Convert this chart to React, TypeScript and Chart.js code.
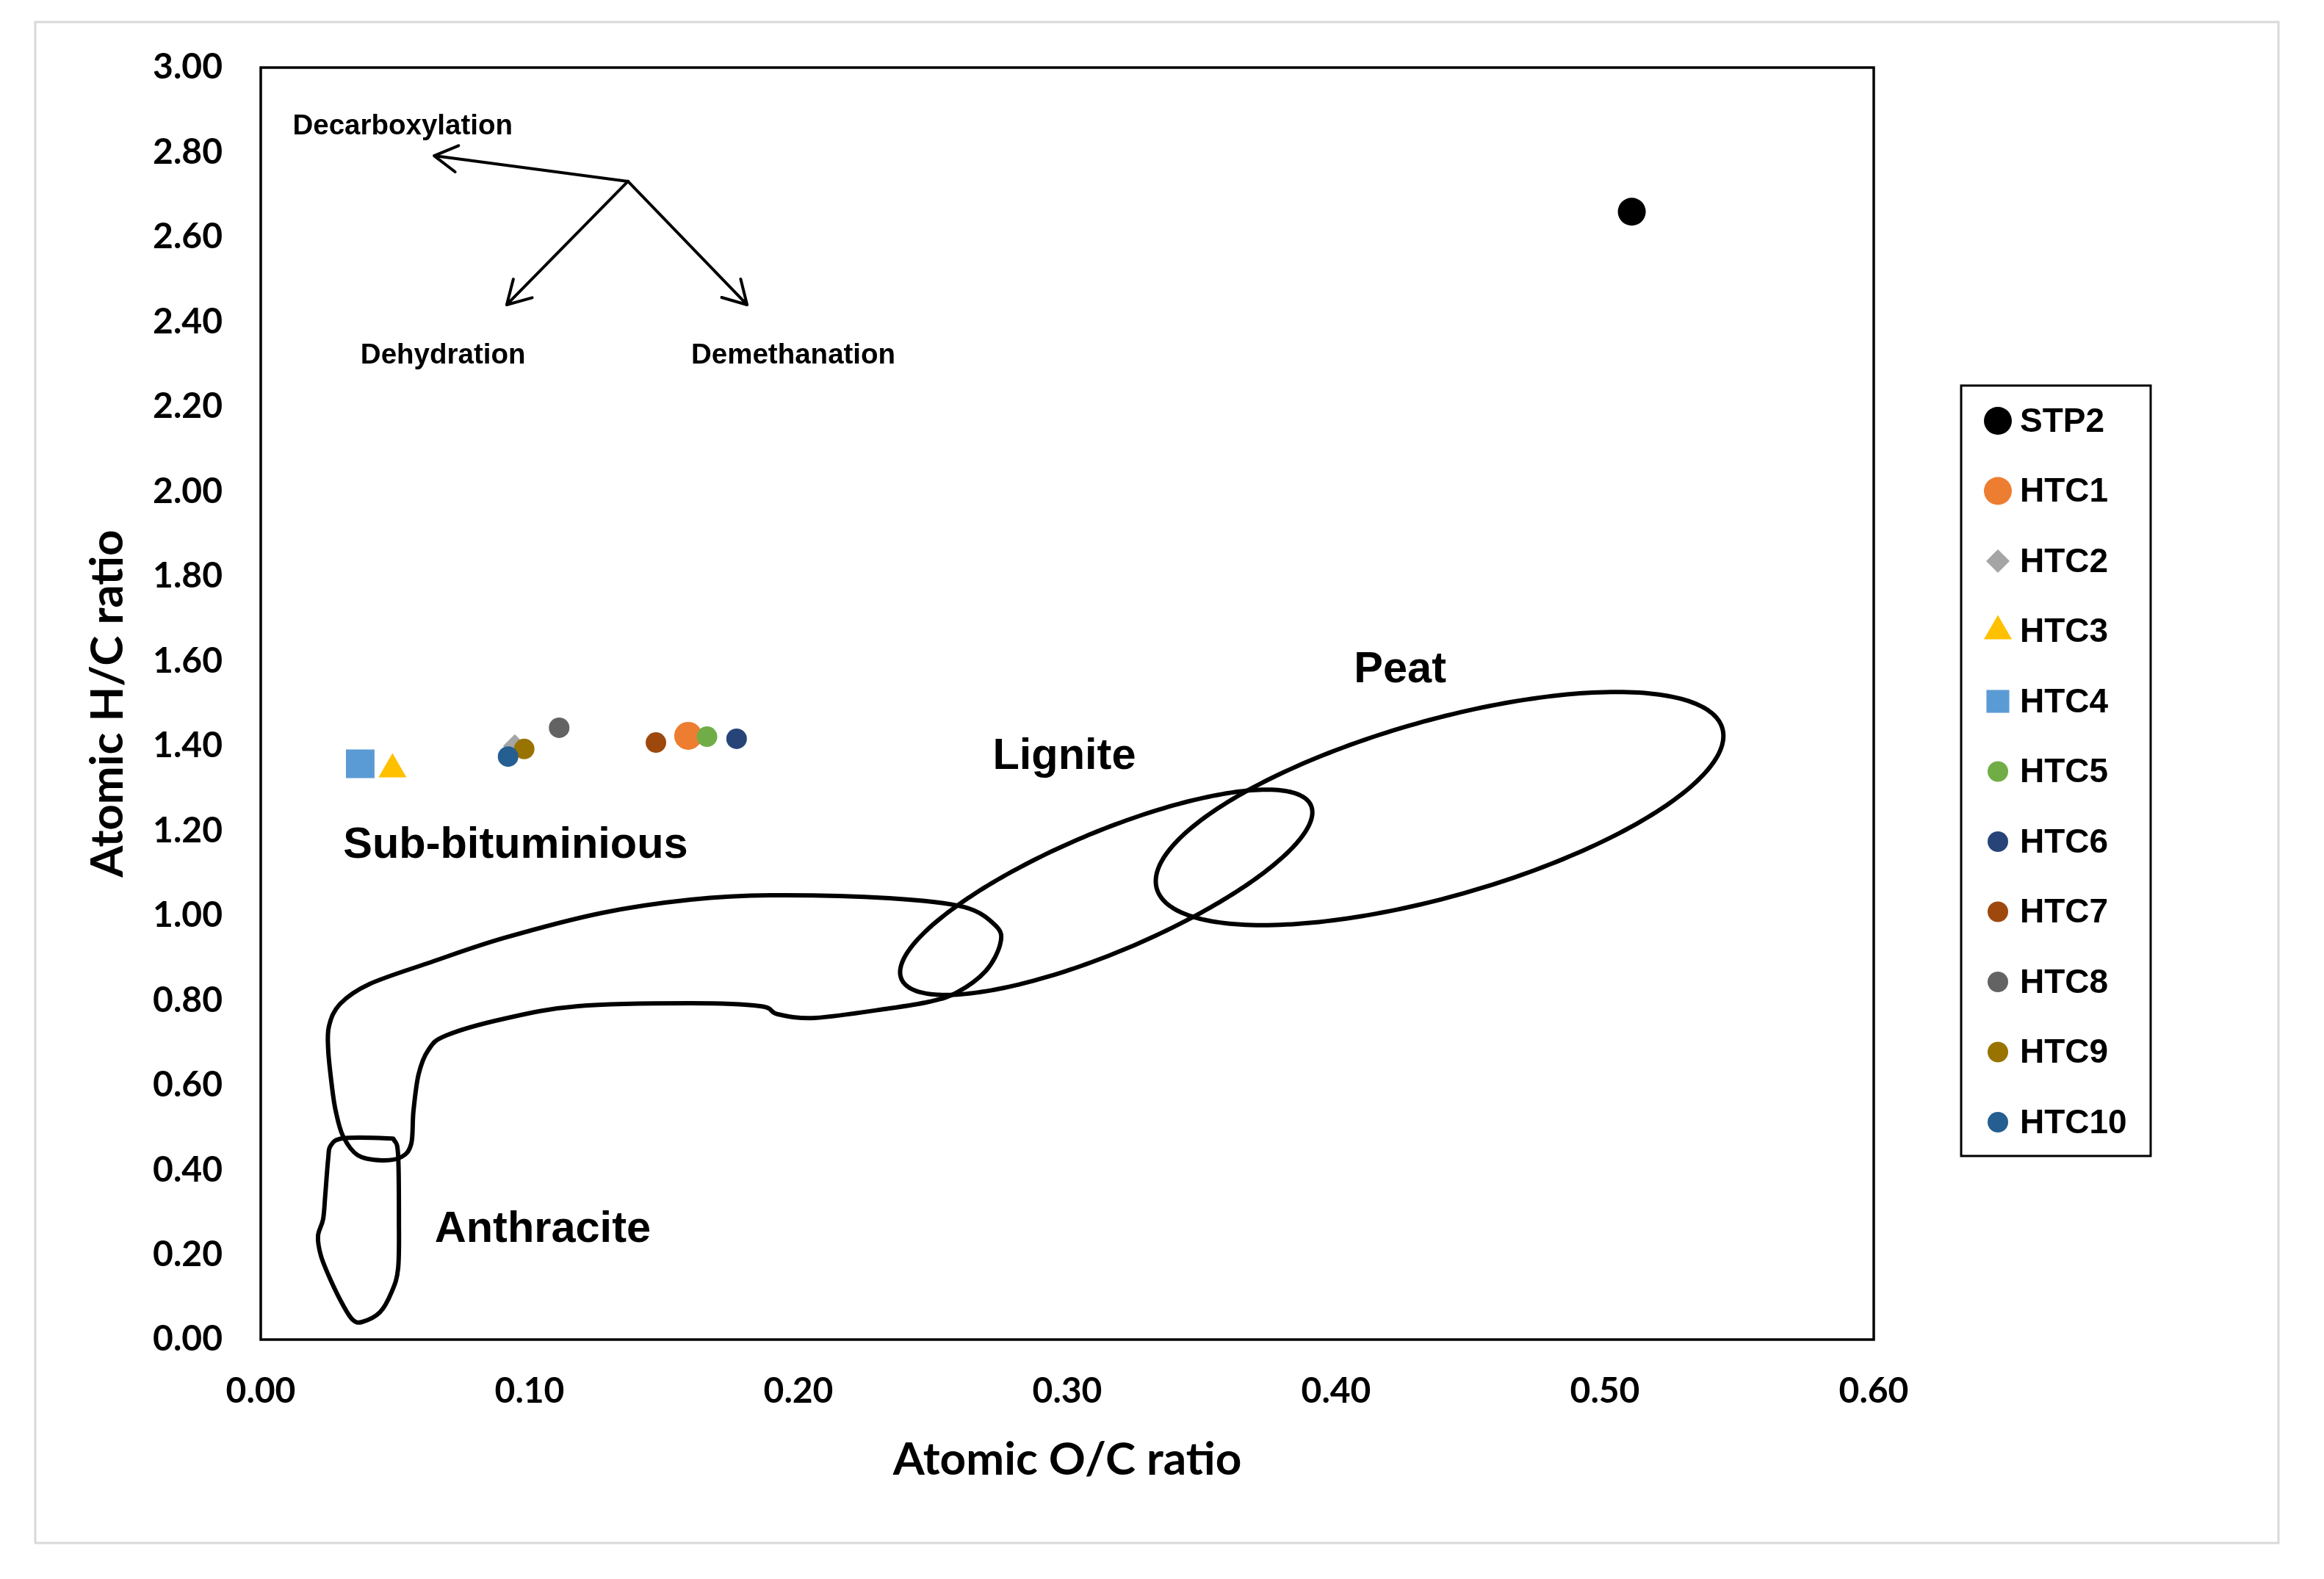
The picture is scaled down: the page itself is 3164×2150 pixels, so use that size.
import React, { useEffect, useRef } from "react";
import { Chart, registerables } from "chart.js";

Chart.register(...registerables);

// ---------- data ----------
const seriesNames = ["STP2", "HTC1", "HTC2", "HTC3", "HTC4", "HTC5", "HTC6", "HTC7", "HTC8", "HTC9", "HTC10"];
const ocRatio = [0.51, 0.159, 0.0945, 0.049, 0.037, 0.166, 0.177, 0.147, 0.111, 0.098, 0.092];
const hcRatio = [2.66, 1.424, 1.4, 1.345, 1.358, 1.422, 1.417, 1.408, 1.443, 1.393, 1.375];
const seriesColors = ["#000000", "#ED7D31", "#A5A5A5", "#FFC000", "#5B9BD5", "#70AD47", "#264478", "#9E480E", "#636363", "#997300", "#255E91"];
const seriesShapes = ["circle", "circle", "rectRot", "triangle", "rect", "circle", "circle", "circle", "circle", "circle", "circle"];
const seriesRadii = [19, 19, 16, 22, 27.5, 14, 14, 14, 14, 14, 14];

const xTicks = [0, 0.1, 0.2, 0.3, 0.4, 0.5, 0.6];
const yTicks = [0, 0.2, 0.4, 0.6, 0.8, 1.0, 1.2, 1.4, 1.6, 1.8, 2.0, 2.2, 2.4, 2.6, 2.8, 3.0];

// coal-rank regions (O/C, H/C)
const peatCenter = [0.4385, 1.2524];
const peatAxisU = [0.1052, 0.1888];
const peatAxisV = [0.0089, -0.1999];
const ligniteCenter = [0.3145, 1.0549];
const ligniteAxisU = [0.0762, 0.2042];
const ligniteAxisV = [0.0085, -0.13];

const subBitOC = [0.0254, 0.0295, 0.0404, 0.0634, 0.0907, 0.127, 0.1598, 0.1896, 0.2339, 0.2615, 0.2735, 0.2751, 0.2697, 0.2587, 0.2486, 0.2339, 0.2063, 0.1923, 0.1858, 0.1598, 0.118, 0.0907, 0.0689, 0.0623, 0.0587, 0.0568, 0.056, 0.0525, 0.0451, 0.0361, 0.0306, 0.0279, 0.0265, 0.0251];
const subBitHC = [0.7397, 0.7916, 0.8384, 0.8903, 0.9475, 1.0064, 1.0376, 1.048, 1.0411, 1.0203, 0.9752, 0.9337, 0.8696, 0.8176, 0.7968, 0.7812, 0.7587, 0.7674, 0.7864, 0.7933, 0.7864, 0.757, 0.7171, 0.6825, 0.6253, 0.5387, 0.4625, 0.4313, 0.4227, 0.4348, 0.4798, 0.5387, 0.5959, 0.6825];

const anthraciteOC = [0.026, 0.0306, 0.047, 0.0497, 0.0511, 0.0514, 0.0511, 0.0486, 0.0443, 0.0377, 0.0342, 0.0306, 0.026, 0.0224, 0.0213, 0.0232, 0.024, 0.0251];
const anthraciteHC = [0.4573, 0.4746, 0.4746, 0.4694, 0.4348, 0.2841, 0.168, 0.1109, 0.0641, 0.0416, 0.0468, 0.0814, 0.1403, 0.1975, 0.2442, 0.2841, 0.3412, 0.4279];

// reaction arrows
const arrowOrigin = [0.1366, 2.7317];
const arrowTipsOC = [0.0645, 0.0915, 0.1809];
const arrowTipsHC = [2.792, 2.4406, 2.4406];

// labels
const smallLabels = ["Decarboxylation", "Dehydration", "Demethanation"];
const smallLabelOC = [0.0528, 0.0678, 0.1981];
const smallLabelHC = [2.861, 2.321, 2.321];
const regionLabels = ["Peat", "Lignite", "Sub-bituminious", "Anthracite"];
const regionLabelOC = [0.4238, 0.2989, 0.0948, 0.1049];
const regionLabelHC = [1.578, 1.374, 1.164, 0.258];

// ---------- drawing helpers ----------
function closedSpline(ctx: CanvasRenderingContext2D, pts: number[][]) {
  const n = pts.length;
  ctx.moveTo(pts[0][0], pts[0][1]);
  for (let i = 0; i < n; i++) {
    const p0 = pts[(i - 1 + n) % n];
    const p1 = pts[i];
    const p2 = pts[(i + 1) % n];
    const p3 = pts[(i + 2) % n];
    ctx.bezierCurveTo(
      p1[0] + (p2[0] - p0[0]) / 6,
      p1[1] + (p2[1] - p0[1]) / 6,
      p2[0] - (p3[0] - p1[0]) / 6,
      p2[1] - (p3[1] - p1[1]) / 6,
      p2[0],
      p2[1]
    );
  }
  ctx.closePath();
}

function drawMarker(ctx: CanvasRenderingContext2D, shape: string, x: number, y: number, r: number, color: string) {
  ctx.save();
  ctx.fillStyle = color;
  ctx.beginPath();
  if (shape === "circle") {
    ctx.arc(x, y, r, 0, Math.PI * 2);
  } else if (shape === "rect") {
    const s = Math.SQRT1_2 * r;
    ctx.rect(x - s, y - s, 2 * s, 2 * s);
  } else if (shape === "rectRot") {
    ctx.moveTo(x - r, y);
    ctx.lineTo(x, y - r);
    ctx.lineTo(x + r, y);
    ctx.lineTo(x, y + r);
    ctx.closePath();
  } else if (shape === "triangle") {
    ctx.moveTo(x, y - r);
    ctx.lineTo(x + r * Math.sin((2 * Math.PI) / 3), y + r / 2);
    ctx.lineTo(x - r * Math.sin((2 * Math.PI) / 3), y + r / 2);
    ctx.closePath();
  }
  ctx.fill();
  ctx.restore();
}

const annotationPlugin = {
  id: "coalAnnotations",
  beforeDraw(chart: any) {
    const ctx: CanvasRenderingContext2D = chart.ctx;
    ctx.save();
    ctx.strokeStyle = "#d9d9d9";
    ctx.lineWidth = 3;
    ctx.strokeRect(48, 30, 3054, 2071);
    ctx.restore();
  },
  beforeDatasetsDraw(chart: any) {
    const ctx: CanvasRenderingContext2D = chart.ctx;
    const xs = chart.scales.x;
    const ys = chart.scales.y;
    const px = (v: number) => xs.getPixelForValue(v);
    const py = (v: number) => ys.getPixelForValue(v);

    ctx.save();
    ctx.strokeStyle = "#000";
    ctx.lineWidth = 6;
    ctx.lineJoin = "round";

    const ellipse = (c: number[], u: number[], v: number[]) => {
      ctx.beginPath();
      const steps = 240;
      for (let k = 0; k <= steps; k++) {
        const t = (k / steps) * Math.PI * 2;
        const X = px(c[0] + u[0] * Math.cos(t) + v[0] * Math.sin(t));
        const Y = py(c[1] + u[1] * Math.cos(t) + v[1] * Math.sin(t));
        if (k === 0) ctx.moveTo(X, Y);
        else ctx.lineTo(X, Y);
      }
      ctx.closePath();
      ctx.stroke();
    };
    ellipse(peatCenter, peatAxisU, peatAxisV);
    ellipse(ligniteCenter, ligniteAxisU, ligniteAxisV);

    ctx.beginPath();
    closedSpline(ctx, subBitOC.map((v, i) => [px(v), py(subBitHC[i])]));
    ctx.stroke();

    ctx.beginPath();
    closedSpline(ctx, anthraciteOC.map((v, i) => [px(v), py(anthraciteHC[i])]));
    ctx.stroke();

    // arrows
    ctx.lineWidth = 4;
    ctx.lineCap = "round";
    const ox = px(arrowOrigin[0]);
    const oy = py(arrowOrigin[1]);
    arrowTipsOC.forEach((v, i) => {
      const tx = px(v);
      const ty = py(arrowTipsHC[i]);
      ctx.beginPath();
      ctx.moveTo(ox, oy);
      ctx.lineTo(tx, ty);
      const ang = Math.atan2(oy - ty, ox - tx);
      const L = 36;
      const spread = Math.PI / 6;
      ctx.moveTo(tx + L * Math.cos(ang + spread), ty + L * Math.sin(ang + spread));
      ctx.lineTo(tx, ty);
      ctx.lineTo(tx + L * Math.cos(ang - spread), ty + L * Math.sin(ang - spread));
      ctx.stroke();
    });

    // labels
    ctx.fillStyle = "#000";
    ctx.textAlign = "center";
    ctx.textBaseline = "middle";
    ctx.font = 'bold 38.5px "Liberation Sans", Arial, sans-serif';
    smallLabels.forEach((t, i) => ctx.fillText(t, px(smallLabelOC[i]), py(smallLabelHC[i])));
    ctx.font = 'bold 59.5px "Liberation Sans", Arial, sans-serif';
    regionLabels.forEach((t, i) => ctx.fillText(t, px(regionLabelOC[i]), py(regionLabelHC[i])));
    ctx.restore();
  },
  afterDraw(chart: any) {
    const ctx: CanvasRenderingContext2D = chart.ctx;
    const a = chart.chartArea;
    ctx.save();
    ctx.strokeStyle = "#000";
    ctx.lineWidth = 3.5;
    ctx.strokeRect(a.left, a.top, a.right - a.left, a.bottom - a.top);

    // legend
    const lx = a.right + 119;
    const ly = 525;
    const lw = 258;
    const lh = 1049;
    ctx.lineWidth = 3;
    ctx.strokeRect(lx, ly, lw, lh);
    ctx.font = 'bold 46px "Liberation Sans", Arial, sans-serif';
    ctx.textAlign = "left";
    ctx.textBaseline = "middle";
    ctx.fillStyle = "#000";
    chart.data.datasets.forEach((ds: any, i: number) => {
      const cy = ly + 48 + i * 95.5;
      const r = Math.min(ds.pointRadius, 22);
      drawMarker(ctx, ds.pointStyle, lx + 50, cy, r, ds.backgroundColor);
      ctx.fillStyle = "#000";
      ctx.fillText(ds.label, lx + 80, cy + 2);
    });
    ctx.restore();
  },
};

export default function App() {
  const canvasRef = useRef<HTMLCanvasElement | null>(null);

  useEffect(() => {
    if (!canvasRef.current) return;
    const datasets = seriesNames.map((name, i) => ({
      label: name,
      data: [{ x: ocRatio[i], y: hcRatio[i] }],
      backgroundColor: seriesColors[i],
      borderColor: seriesColors[i],
      borderWidth: 0,
      pointStyle: seriesShapes[i],
      pointRadius: seriesRadii[i],
      pointHoverRadius: seriesRadii[i],
      order: seriesNames.length - i,
    }));

    const tickFont = { family: "Lato", size: 48, weight: "bold" as const };
    const titleFont = { family: "Lato", size: 62, weight: "bold" as const };

    const chart = new Chart(canvasRef.current, {
      type: "scatter",
      data: { datasets },
      plugins: [annotationPlugin],
      options: {
        responsive: false,
        animation: false,
        events: [],
        layout: { padding: { top: 92, right: 613, left: 0, bottom: 0 } },
        plugins: { legend: { display: false }, tooltip: { enabled: false } },
        scales: {
          x: {
            type: "linear",
            min: xTicks[0],
            max: xTicks[xTicks.length - 1],
            afterFit: (s: any) => {
              s.height = 326;
            },
            afterBuildTicks: (s: any) => {
              s.ticks = xTicks.map((v) => ({ value: v }));
            },
            ticks: {
              callback: (v: any) => Number(v).toFixed(2),
              font: tickFont,
              color: "#000",
              padding: 42,
              maxRotation: 0,
              autoSkip: false,
            },
            grid: { display: false, drawTicks: false },
            border: { display: false },
            title: {
              display: true,
              text: "Atomic O/C ratio",
              font: titleFont,
              color: "#000",
              padding: { top: 0, bottom: 125 },
            },
          },
          y: {
            type: "linear",
            min: yTicks[0],
            max: yTicks[yTicks.length - 1],
            afterFit: (s: any) => {
              s.width = 355;
            },
            afterBuildTicks: (s: any) => {
              s.ticks = yTicks.map((v) => ({ value: v }));
            },
            ticks: {
              callback: (v: any) => Number(v).toFixed(2),
              font: tickFont,
              color: "#000",
              padding: 52,
              autoSkip: false,
            },
            grid: { display: false, drawTicks: false },
            border: { display: false },
            title: {
              display: true,
              text: "Atomic H/C ratio",
              font: titleFont,
              color: "#000",
              padding: { top: 110, bottom: 0 },
            },
          },
        },
      },
    } as any);
    return () => chart.destroy();
  }, []);

  return (
    <div style={{ position: "fixed", left: 0, top: 0, width: 3164, height: 2150, background: "#fff" }}>
      <canvas ref={canvasRef} width={3164} height={2150} style={{ width: 3164, height: 2150, display: "block" }} />
    </div>
  );
}
